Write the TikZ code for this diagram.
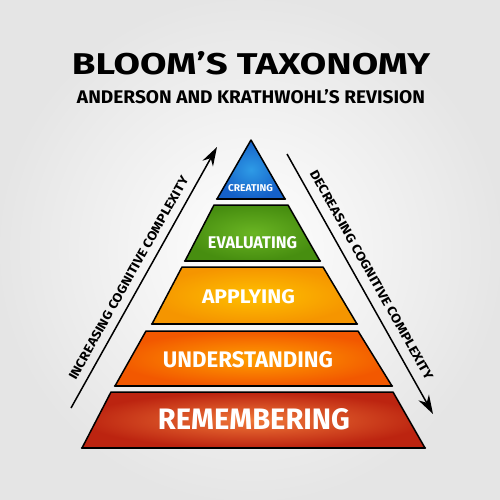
\documentclass[tikz,border=0pt]{standalone}
\usepackage{fontspec}
\setmainfont{Fira Sans}
\usepackage{graphicx}
\usetikzlibrary{arrows.meta}
\definecolor{bluein}{HTML}{2E9BE6}\definecolor{blueout}{HTML}{1560C8}
\definecolor{greenin}{HTML}{6AB523}\definecolor{greenout}{HTML}{478E10}
\definecolor{yelin}{HTML}{FFC000}\definecolor{yelout}{HTML}{F59500}
\definecolor{orin}{HTML}{FFA000}\definecolor{orout}{HTML}{F25800}
\definecolor{redin}{HTML}{F07838}\definecolor{redout}{HTML}{BC2410}
\begin{document}
\begin{tikzpicture}[x=1pt,y=-1pt,
  layer/.style={draw=black, line width=1.5pt, line join=round},
  base/.style={draw=black, line width=2.6pt, line cap=round},
  ltext/.style={text=white, inner sep=0pt, font=\bfseries},
  dtext/.style={text=black, inner sep=0pt, font=\bfseries},
  cplx/.style={line width=1.5pt, -{Stealth[length=19pt,width=12pt]}}]
\useasboundingbox (0,0) rectangle (500,500);
\shade[inner color=white, outer color=black!10] (0,0) rectangle (500,500);
% layers
\shadedraw[layer, inner color=bluein, outer color=blueout] (251,140) -- (285,199) -- (217,199) -- cycle;
\draw[base] (217,199) -- (285,199);
\shadedraw[layer, inner color=greenin, outer color=greenout] (214,205) -- (288,205) -- (320,261) -- (185,261) -- cycle;
\draw[base] (185,261) -- (320,261);
\shadedraw[layer, inner color=yelin, outer color=yelout] (182,267) -- (323,267) -- (357,324) -- (152,324) -- cycle;
\draw[base] (152,324) -- (357,324);
\shadedraw[layer, inner color=orin, outer color=orout] (146,331) -- (358,331) -- (392,386) -- (115,386) -- cycle;
\draw[base] (115,386) -- (392,386);
\shadedraw[layer, inner color=redin, outer color=redout] (111,392) -- (393,392) -- (425,448) -- (82,448) -- cycle;
\draw[base] (82,448) -- (425,448);
% layer texts
\node[ltext] (cre) at (250.5,188.5) {\resizebox{45pt}{7pt}{CREATING}};
\node[ltext] (eva) at (252.5,243) {\resizebox{89pt}{12pt}{EVALUATING}};
\node[ltext] (app) at (248.5,297) {\resizebox{93pt}{14pt}{APPLYING}};
\node[ltext] (und) at (248,360) {\resizebox{170pt}{16pt}{UNDERSTANDING}};
\node[ltext] (rem) at (254,419) {\resizebox{192pt}{21pt}{REMEMBERING}};
% title
\node[dtext] (title) at (251,63) {\resizebox{358pt}{23pt}{BLOOM'S TAXONOMY}};
\node[dtext] (sub) at (251,97) {\resizebox{348pt}{14pt}{ANDERSON AND KRATHWOHL'S REVISION}};
% arrows
\coordinate (incA) at (71,408);
\coordinate (incB) at (217,147);
\coordinate (decA) at (287,154);
\coordinate (decB) at (433,414);
\draw[cplx] (incA) -- (incB);
\draw[cplx] (decA) -- (decB);
\node[dtext, rotate=60.68] (inc) at (128.5,278) {\resizebox{231pt}{9pt}{INCREASING COGNITIVE COMPLEXITY}};
\node[dtext, rotate=-60.68] (dec) at (371.5,275) {\resizebox{238pt}{9pt}{DECREASING COGNITIVE COMPLEXITY}};
\end{tikzpicture}
\end{document}
